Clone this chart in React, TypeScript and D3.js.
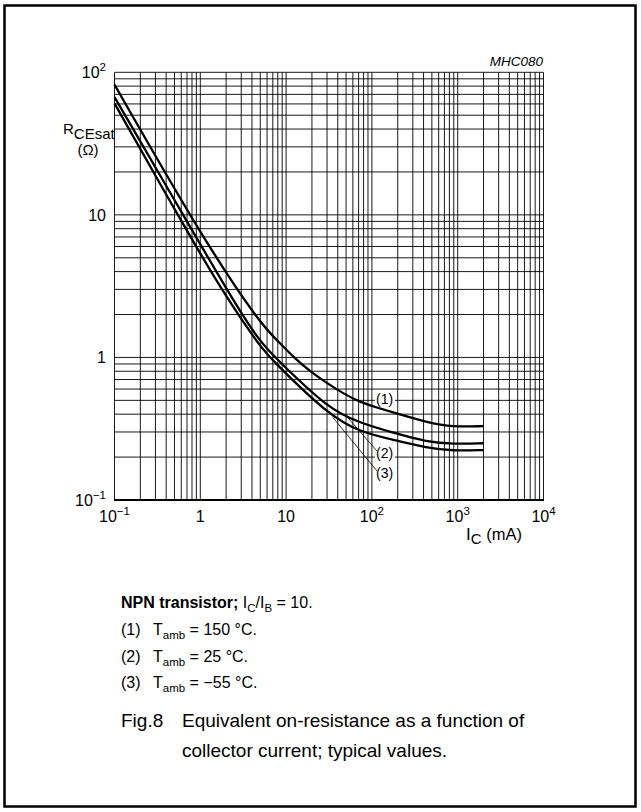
import React from "react";
import * as d3 from "d3";

// Data (I_C in mA, R_CEsat in ohm)
const currents150 = [0.1, 1.04, 5, 7.8, 12, 19, 30, 46, 73, 114, 180, 440, 880, 2000];
const rce150 = [82, 7.0, 1.72, 1.33, 1.01, 0.8, 0.66, 0.56, 0.485, 0.445, 0.41, 0.35, 0.325, 0.33];

const currents25 = [0.1, 0.89, 2.4, 5, 8, 31, 73, 178, 440, 880, 2000];
const rce25 = [67, 7.0, 2.53, 1.27, 0.96, 0.436, 0.347, 0.296, 0.255, 0.247, 0.25];

const currentsM55 = [0.1, 0.76, 2.1, 5, 6.85, 31, 73, 178, 440, 880, 2000];
const rceM55 = [60.6, 7.0, 2.53, 1.19, 0.96, 0.395, 0.3, 0.264, 0.232, 0.221, 0.224];

const curveLabels = ["(1)", "(2)", "(3)"];
const legendTemps = ["150", "25", "\u221255"];
const xTickExps = [-1, 0, 1, 2, 3, 4];
const yTickExps = [-1, 0, 1, 2];

const FONT = "'Liberation Sans', Arial, Helvetica, sans-serif";

function interpLog(xs: number[], ys: number[], v: number) {
  const lv = Math.log10(v);
  for (let i = 0; i < xs.length - 1; i++) {
    const a = Math.log10(xs[i]);
    const b = Math.log10(xs[i + 1]);
    if (lv >= a && lv <= b) {
      const t = (lv - a) / (b - a);
      return Math.pow(10, Math.log10(ys[i]) * (1 - t) + Math.log10(ys[i + 1]) * t);
    }
  }
  return ys[ys.length - 1];
}

function PowLabel({ e, x, y, anchor }: { e: number; x: number; y: number; anchor: string }) {
  if (e === 0) return <text x={x} y={y} textAnchor={anchor} fontSize={16}>1</text>;
  if (e === 1) return <text x={x} y={y} textAnchor={anchor} fontSize={16}>10</text>;
  const sup = e < 0 ? "\u2212" + Math.abs(e) : String(e);
  return (
    <text x={x} y={y} textAnchor={anchor} fontSize={16}>
      10<tspan dy={-7} fontSize={11.5}>{sup}</tspan>
    </text>
  );
}

export default function App() {
  const x = d3.scaleLog().domain([0.1, 1e4]).range([114.5, 543.5]);
  const y = d3.scaleLog().domain([0.1, 100]).range([500, 72.3]);

  const xGrid: number[] = [];
  for (let e = -1; e <= 3; e++) for (let d = 1; d <= 9; d++) xGrid.push(d * Math.pow(10, e));
  xGrid.push(1e4);
  const yGrid: number[] = [];
  for (let e = -1; e <= 1; e++) for (let d = 1; d <= 9; d++) yGrid.push(d * Math.pow(10, e));
  yGrid.push(100);

  const line = d3
    .line<[number, number]>()
    .x((d) => x(d[0]))
    .y((d) => y(d[1]))
    .curve(d3.curveBasis);

  const series = [
    { xs: currents150, ys: rce150 },
    { xs: currents25, ys: rce25 },
    { xs: currentsM55, ys: rceM55 },
  ];

  const lead2I = 52;
  const lead3I = 35;
  const l2y = y(interpLog(currents25, rce25, lead2I));
  const l3y = y(interpLog(currentsM55, rceM55, lead3I));

  const labelPos = [
    { x: 376, y: 404 },
    { x: 376, y: 458 },
    { x: 376, y: 478 },
  ];

  const legY = [608, 635, 661.5, 688];

  return (
    <div style={{ position: "absolute", left: 0, top: 0 }}>
      <svg width={641} height={812} style={{ display: "block", background: "#fff" }} fontFamily={FONT}>
        <rect x={4.5} y={5.5} width={631} height={801} fill="none" stroke="#000" strokeWidth={2.5} />

        <g stroke="#000" strokeWidth={0.9}>
          {xGrid.map((v, i) => (
            <line key={"xg" + i} x1={x(v)} x2={x(v)} y1={y(100)} y2={y(0.1)} />
          ))}
          {yGrid.map((v, i) => (
            <line key={"yg" + i} x1={x(0.1)} x2={x(1e4)} y1={y(v)} y2={y(v)} />
          ))}
        </g>
        <line x1={x(0.1) - 0.5} x2={x(1e4) + 0.5} y1={y(0.1)} y2={y(0.1)} stroke="#000" strokeWidth={2} />

        {curveLabels.map((l, i) => (
          <rect key={"lb" + i} x={labelPos[i].x - 1} y={labelPos[i].y - 12} width={20} height={15} fill="#fff" />
        ))}

        <g stroke="#000" strokeWidth={0.8}>
          <line x1={x(lead2I)} y1={l2y} x2={labelPos[1].x + 1} y2={labelPos[1].y - 7} />
          <line x1={x(lead3I)} y1={l3y} x2={labelPos[2].x + 1} y2={labelPos[2].y - 7} />
        </g>

        {series.map((s, i) => (
          <path
            key={"c" + i}
            d={line(s.xs.map((v, j) => [v, s.ys[j]] as [number, number])) || ""}
            fill="none"
            stroke="#000"
            strokeWidth={2.3}
          />
        ))}

        {curveLabels.map((l, i) => (
          <text key={"cl" + i} x={labelPos[i].x} y={labelPos[i].y} fontSize={14}>
            {l}
          </text>
        ))}

        {xTickExps.map((e) => (
          <PowLabel key={"xt" + e} e={e} x={x(Math.pow(10, e))} y={522} anchor="middle" />
        ))}
        {yTickExps.map((e) => (
          <PowLabel key={"yt" + e} e={e} x={106} y={y(Math.pow(10, e)) + 6} anchor="end" />
        ))}

        <text x={543} y={66} textAnchor="end" fontSize={13.5} fontStyle="italic">
          MHC080
        </text>

        <text x={63} y={134} fontSize={15}>
          R<tspan dy={5}>CEsat</tspan>
        </text>
        <text x={88} y={155} fontSize={15} textAnchor="middle">
          ({"\u03A9"})
        </text>
        <text x={466} y={540} fontSize={17}>
          I<tspan dy={4} fontSize={15}>C</tspan>
          <tspan dy={-4} fontSize={16.5}>{" (mA)"}</tspan>
        </text>

        <text x={121} y={legY[0]} fontSize={16}>
          <tspan fontWeight="bold">NPN transistor;</tspan>
          <tspan>{" I"}</tspan>
          <tspan dy={3.5} fontSize={11.5}>C</tspan>
          <tspan dy={-3.5}>/I</tspan>
          <tspan dy={3.5} fontSize={11.5}>B</tspan>
          <tspan dy={-3.5}>{" = 10."}</tspan>
        </text>
        {legendTemps.map((t, i) => (
          <g key={"lg" + i}>
            <text x={121} y={legY[i + 1]} fontSize={16}>
              {curveLabels[i]}
            </text>
            <text x={153} y={legY[i + 1]} fontSize={16}>
              T<tspan dy={4} fontSize={11.5}>amb</tspan>
              <tspan dy={-4}>{" = " + t + " \u00B0C."}</tspan>
            </text>
          </g>
        ))}
        <text x={121} y={727} fontSize={19}>
          Fig.8
        </text>
        <text x={182} y={727} fontSize={19}>
          Equivalent on-resistance as a function of
        </text>
        <text x={182} y={757} fontSize={19}>
          collector current; typical values.
        </text>
      </svg>
    </div>
  );
}
